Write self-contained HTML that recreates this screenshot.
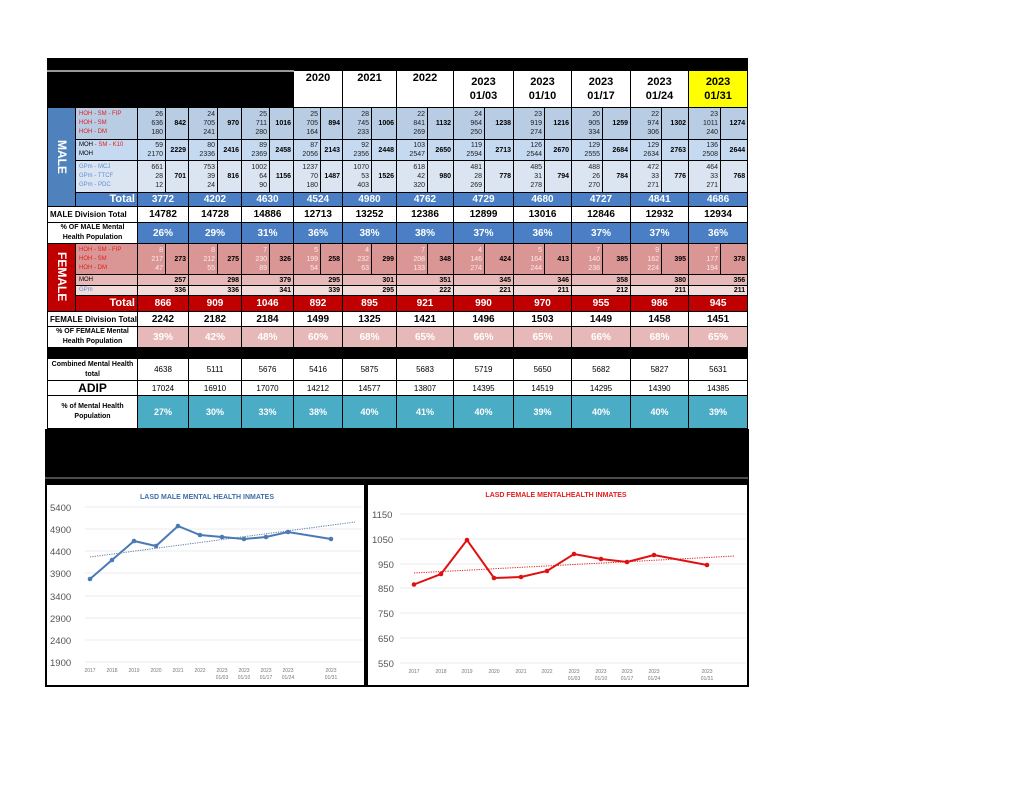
<!DOCTYPE html>
<html><head><meta charset="utf-8">
<style>
body{margin:0;width:1024px;height:791px;background:#fff;position:relative;overflow:hidden;font-family:"Liberation Sans",sans-serif}
table{position:absolute;left:47px;top:58px;border-collapse:collapse;table-layout:fixed;width:701px}
td{border:1px solid #000;padding:0 2px;font-size:7px;line-height:9px;text-align:right;overflow:hidden;white-space:nowrap;color:#222}
.bk{background:#000;border-color:#000}
.h{background:#fff;font-size:11px;font-weight:bold;text-align:center;line-height:14px;color:#000}
.y{background:#ffff00}
.lbl{text-align:left;font-size:6px;line-height:9px;padding-left:3px}
.r{color:#e02020}.bl{color:#5b8fd6}.k{color:#000}
.b1{background:#b8cce4}.b2{background:#c5d9f1}.b3{background:#dbe5f1}
.bt{background:#4a7fc6;color:#fff;font-weight:bold;font-size:10px;text-align:center}
.w{background:#fff;color:#000;font-weight:bold;font-size:10px;text-align:center}
.wl{background:#fff;color:#000;font-weight:bold;font-size:8px;text-align:center;line-height:10px;white-space:normal}
.tb{font-weight:bold;color:#000}
.p1{background:#da9694}.p2{background:#e6b8b7}.p3{background:#f2dcdb}
.pw{color:#fbeaea}
.rt{background:#c00000;color:#fff;font-weight:bold;font-size:10px;text-align:center}
.pp{background:#e6b8b7;color:#fff;font-weight:bold;font-size:10px;text-align:center}
.tl{background:#4bacc6;color:#fff;font-weight:bold;font-size:9px;text-align:center}
.cw{background:#fff;color:#000;font-size:8px;text-align:center}
.vert{color:#fff;font-weight:bold;font-size:12px;text-align:center;padding:0}
.vert span{display:inline-block;writing-mode:vertical-rl;}
</style></head><body>
<table>
<colgroup><col style="width:28px"><col style="width:62px">
<col style="width:28px"><col style="width:23px"><col style="width:29px"><col style="width:24px"><col style="width:28px"><col style="width:24px"><col style="width:27px"><col style="width:22px"><col style="width:29px"><col style="width:25px"><col style="width:31px"><col style="width:26px"><col style="width:31px"><col style="width:29px"><col style="width:31px"><col style="width:27px"><col style="width:31px"><col style="width:28px"><col style="width:31px"><col style="width:27px"><col style="width:32px"><col style="width:27px"></colgroup>
<tr style="height:12px"><td colspan="24" class="bk"></td></tr>
<tr style="height:37px"><td colspan="8" class="bk" style="border-top:2px solid #999"></td>
<td colspan="2" class="h" style="vertical-align:top">2020</td><td colspan="2" class="h" style="vertical-align:top">2021</td><td colspan="2" class="h" style="vertical-align:top">2022</td>
<td colspan="2" class="h">2023<br>01/03</td><td colspan="2" class="h">2023<br>01/10</td><td colspan="2" class="h">2023<br>01/17</td><td colspan="2" class="h">2023<br>01/24</td><td colspan="2" class="h y">2023<br>01/31</td></tr>
<tr style="height:32px"><td rowspan="4" class="vert" style="background:#4f81bd"><span>MALE</span></td>
<td class="lbl b1 r">HOH - SM - FIP<br>HOH - SM<br>HOH - DM</td>
<td class="b1">26<br>636<br>180</td><td class="b1 tb">842</td><td class="b1">24<br>705<br>241</td><td class="b1 tb">970</td><td class="b1">25<br>711<br>280</td><td class="b1 tb">1016</td><td class="b1">25<br>705<br>164</td><td class="b1 tb">894</td><td class="b1">28<br>745<br>233</td><td class="b1 tb">1006</td><td class="b1">22<br>841<br>269</td><td class="b1 tb">1132</td><td class="b1">24<br>964<br>250</td><td class="b1 tb">1238</td><td class="b1">23<br>919<br>274</td><td class="b1 tb">1216</td><td class="b1">20<br>905<br>334</td><td class="b1 tb">1259</td><td class="b1">22<br>974<br>306</td><td class="b1 tb">1302</td><td class="b1">23<br>1011<br>240</td><td class="b1 tb">1274</td></tr>
<tr style="height:21px"><td class="lbl b2 k">MOH <span class="r">- SM - K10</span><br>MOH</td>
<td class="b2">59<br>2170</td><td class="b2 tb">2229</td><td class="b2">80<br>2336</td><td class="b2 tb">2416</td><td class="b2">89<br>2369</td><td class="b2 tb">2458</td><td class="b2">87<br>2056</td><td class="b2 tb">2143</td><td class="b2">92<br>2356</td><td class="b2 tb">2448</td><td class="b2">103<br>2547</td><td class="b2 tb">2650</td><td class="b2">119<br>2594</td><td class="b2 tb">2713</td><td class="b2">126<br>2544</td><td class="b2 tb">2670</td><td class="b2">129<br>2555</td><td class="b2 tb">2684</td><td class="b2">129<br>2634</td><td class="b2 tb">2763</td><td class="b2">136<br>2508</td><td class="b2 tb">2644</td></tr>
<tr style="height:32px"><td class="lbl b3 bl">GPm - MCJ<br>GPm - TTCF<br>GPm - PDC</td>
<td class="b3">661<br>28<br>12</td><td class="b3 tb">701</td><td class="b3">753<br>39<br>24</td><td class="b3 tb">816</td><td class="b3">1002<br>64<br>90</td><td class="b3 tb">1156</td><td class="b3">1237<br>70<br>180</td><td class="b3 tb">1487</td><td class="b3">1070<br>53<br>403</td><td class="b3 tb">1526</td><td class="b3">618<br>42<br>320</td><td class="b3 tb">980</td><td class="b3">481<br>28<br>269</td><td class="b3 tb">778</td><td class="b3">485<br>31<br>278</td><td class="b3 tb">794</td><td class="b3">488<br>26<br>270</td><td class="b3 tb">784</td><td class="b3">472<br>33<br>271</td><td class="b3 tb">776</td><td class="b3">464<br>33<br>271</td><td class="b3 tb">768</td></tr>
<tr style="height:14px"><td class="bt" style="text-align:right;font-size:11px">Total</td>
<td colspan="2" class="bt">3772</td><td colspan="2" class="bt">4202</td><td colspan="2" class="bt">4630</td><td colspan="2" class="bt">4524</td><td colspan="2" class="bt">4980</td><td colspan="2" class="bt">4762</td><td colspan="2" class="bt">4729</td><td colspan="2" class="bt">4680</td><td colspan="2" class="bt">4727</td><td colspan="2" class="bt">4841</td><td colspan="2" class="bt">4686</td></tr>
<tr style="height:16px"><td colspan="2" class="w" style="font-size:8px;text-align:left">MALE Division Total</td>
<td colspan="2" class="w">14782</td><td colspan="2" class="w">14728</td><td colspan="2" class="w">14886</td><td colspan="2" class="w">12713</td><td colspan="2" class="w">13252</td><td colspan="2" class="w">12386</td><td colspan="2" class="w">12899</td><td colspan="2" class="w">13016</td><td colspan="2" class="w">12846</td><td colspan="2" class="w">12932</td><td colspan="2" class="w">12934</td></tr>
<tr style="height:21px"><td colspan="2" class="wl" style="font-size:7px">% OF MALE Mental Health Population</td>
<td colspan="2" class="bt">26%</td><td colspan="2" class="bt">29%</td><td colspan="2" class="bt">31%</td><td colspan="2" class="bt">36%</td><td colspan="2" class="bt">38%</td><td colspan="2" class="bt">38%</td><td colspan="2" class="bt">37%</td><td colspan="2" class="bt">36%</td><td colspan="2" class="bt">37%</td><td colspan="2" class="bt">37%</td><td colspan="2" class="bt">36%</td></tr>
<tr style="height:31px"><td rowspan="4" class="vert" style="background:#c00000"><span>FEMALE</span></td>
<td class="lbl p1 r">HOH - SM - FIP<br>HOH - SM<br>HOH - DM</td>
<td class="p1 pw">8<br>217<br>47</td><td class="p1 tb">273</td><td class="p1 pw">8<br>212<br>55</td><td class="p1 tb">275</td><td class="p1 pw">7<br>230<br>89</td><td class="p1 tb">326</td><td class="p1 pw">5<br>199<br>54</td><td class="p1 tb">258</td><td class="p1 pw">4<br>232<br>63</td><td class="p1 tb">299</td><td class="p1 pw">7<br>208<br>133</td><td class="p1 tb">348</td><td class="p1 pw">4<br>146<br>274</td><td class="p1 tb">424</td><td class="p1 pw">5<br>164<br>244</td><td class="p1 tb">413</td><td class="p1 pw">7<br>140<br>238</td><td class="p1 tb">385</td><td class="p1 pw">9<br>162<br>224</td><td class="p1 tb">395</td><td class="p1 pw">7<br>177<br>194</td><td class="p1 tb">378</td></tr>
<tr style="height:11px"><td class="lbl p2 k">MOH</td>
<td colspan="2" class="p2 tb">257</td><td colspan="2" class="p2 tb">298</td><td colspan="2" class="p2 tb">379</td><td colspan="2" class="p2 tb">295</td><td colspan="2" class="p2 tb">301</td><td colspan="2" class="p2 tb">351</td><td colspan="2" class="p2 tb">345</td><td colspan="2" class="p2 tb">346</td><td colspan="2" class="p2 tb">358</td><td colspan="2" class="p2 tb">380</td><td colspan="2" class="p2 tb">356</td></tr>
<tr style="height:10px"><td class="lbl p3 bl">GPm</td>
<td colspan="2" class="p3 tb">336</td><td colspan="2" class="p3 tb">336</td><td colspan="2" class="p3 tb">341</td><td colspan="2" class="p3 tb">339</td><td colspan="2" class="p3 tb">295</td><td colspan="2" class="p3 tb">222</td><td colspan="2" class="p3 tb">221</td><td colspan="2" class="p3 tb">211</td><td colspan="2" class="p3 tb">212</td><td colspan="2" class="p3 tb">211</td><td colspan="2" class="p3 tb">211</td></tr>
<tr style="height:16px"><td class="rt" style="text-align:right;font-size:11px">Total</td>
<td colspan="2" class="rt">866</td><td colspan="2" class="rt">909</td><td colspan="2" class="rt">1046</td><td colspan="2" class="rt">892</td><td colspan="2" class="rt">895</td><td colspan="2" class="rt">921</td><td colspan="2" class="rt">990</td><td colspan="2" class="rt">970</td><td colspan="2" class="rt">955</td><td colspan="2" class="rt">986</td><td colspan="2" class="rt">945</td></tr>
<tr style="height:15px"><td colspan="2" class="w" style="font-size:8px;text-align:left">FEMALE Division Total</td>
<td colspan="2" class="w">2242</td><td colspan="2" class="w">2182</td><td colspan="2" class="w">2184</td><td colspan="2" class="w">1499</td><td colspan="2" class="w">1325</td><td colspan="2" class="w">1421</td><td colspan="2" class="w">1496</td><td colspan="2" class="w">1503</td><td colspan="2" class="w">1449</td><td colspan="2" class="w">1458</td><td colspan="2" class="w">1451</td></tr>
<tr style="height:21px"><td colspan="2" class="wl" style="font-size:7px">% OF FEMALE Mental Health Population</td>
<td colspan="2" class="pp">39%</td><td colspan="2" class="pp">42%</td><td colspan="2" class="pp">48%</td><td colspan="2" class="pp">60%</td><td colspan="2" class="pp">68%</td><td colspan="2" class="pp">65%</td><td colspan="2" class="pp">66%</td><td colspan="2" class="pp">65%</td><td colspan="2" class="pp">66%</td><td colspan="2" class="pp">68%</td><td colspan="2" class="pp">65%</td></tr>
<tr style="height:11px"><td colspan="24" class="bk"></td></tr>
<tr style="height:22px"><td colspan="2" class="wl" style="font-size:7px">Combined Mental Health total</td>
<td colspan="2" class="cw">4638</td><td colspan="2" class="cw">5111</td><td colspan="2" class="cw">5676</td><td colspan="2" class="cw">5416</td><td colspan="2" class="cw">5875</td><td colspan="2" class="cw">5683</td><td colspan="2" class="cw">5719</td><td colspan="2" class="cw">5650</td><td colspan="2" class="cw">5682</td><td colspan="2" class="cw">5827</td><td colspan="2" class="cw">5631</td></tr>
<tr style="height:15px"><td colspan="2" class="w" style="font-size:12px">ADIP</td>
<td colspan="2" class="cw">17024</td><td colspan="2" class="cw">16910</td><td colspan="2" class="cw">17070</td><td colspan="2" class="cw">14212</td><td colspan="2" class="cw">14577</td><td colspan="2" class="cw">13807</td><td colspan="2" class="cw">14395</td><td colspan="2" class="cw">14519</td><td colspan="2" class="cw">14295</td><td colspan="2" class="cw">14390</td><td colspan="2" class="cw">14385</td></tr>
<tr style="height:33px"><td colspan="2" class="wl" style="font-size:7px">% of Mental Health Population</td>
<td colspan="2" class="tl">27%</td><td colspan="2" class="tl">30%</td><td colspan="2" class="tl">33%</td><td colspan="2" class="tl">38%</td><td colspan="2" class="tl">40%</td><td colspan="2" class="tl">41%</td><td colspan="2" class="tl">40%</td><td colspan="2" class="tl">39%</td><td colspan="2" class="tl">40%</td><td colspan="2" class="tl">40%</td><td colspan="2" class="tl">39%</td></tr>
</table>
<div style="position:absolute;left:45px;top:429px;width:704px;height:258px;background:#000"></div>
<svg style="position:absolute;left:0;top:0" width="1024" height="791" font-family="Liberation Sans, sans-serif">
<rect x="47" y="485" width="317" height="200" fill="#fff"/>
<rect x="368" y="485" width="379" height="200" fill="#fff"/>
<line x1="45" y1="478" x2="748" y2="478" stroke="#999" stroke-width="1"/>
<text x="207" y="499" font-size="7" font-weight="bold" fill="#3f6ea8" text-anchor="middle">LASD MALE MENTAL HEALTH INMATES</text>
<g stroke="#e4e4e4" stroke-width="0.7">
<line x1="85" y1="507" x2="362" y2="507"/><line x1="85" y1="529" x2="362" y2="529"/><line x1="85" y1="551" x2="362" y2="551"/><line x1="85" y1="573" x2="362" y2="573"/><line x1="85" y1="596" x2="362" y2="596"/><line x1="85" y1="618" x2="362" y2="618"/><line x1="85" y1="640" x2="362" y2="640"/><line x1="85" y1="662" x2="362" y2="662"/>
</g>
<g font-size="9.5" fill="#555">
<text x="50" y="511">5400</text><text x="50" y="533">4900</text><text x="50" y="555">4400</text><text x="50" y="577">3900</text><text x="50" y="600">3400</text><text x="50" y="622">2900</text><text x="50" y="644">2400</text><text x="50" y="666">1900</text>
</g>
<g font-size="5" fill="#777" text-anchor="middle">
<text x="90" y="672">2017</text><text x="112" y="672">2018</text><text x="134" y="672">2019</text><text x="156" y="672">2020</text><text x="178" y="672">2021</text><text x="200" y="672">2022</text>
<text x="222" y="672">2023</text><text x="222" y="679">01/03</text><text x="244" y="672">2023</text><text x="244" y="679">01/10</text><text x="266" y="672">2023</text><text x="266" y="679">01/17</text><text x="288" y="672">2023</text><text x="288" y="679">01/24</text><text x="331" y="672">2023</text><text x="331" y="679">01/31</text>
</g>
<line x1="90" y1="557" x2="355" y2="522" stroke="#5a7ea8" stroke-width="1" stroke-dasharray="1.2,1.2"/>
<polyline fill="none" stroke="#4a79b4" stroke-width="2" points="90,579 112,560 134,541 156,546 178,526 200,535 222,537 244,539 266,537 288,532 331,539"/>
<g fill="#4a79b4"><circle cx="90" cy="579" r="2.3"/><circle cx="112" cy="560" r="2.3"/><circle cx="134" cy="541" r="2.3"/><circle cx="156" cy="546" r="2.3"/><circle cx="178" cy="526" r="2.3"/><circle cx="200" cy="535" r="2.3"/><circle cx="222" cy="537" r="2.3"/><circle cx="244" cy="539" r="2.3"/><circle cx="266" cy="537" r="2.3"/><circle cx="288" cy="532" r="2.3"/><circle cx="331" cy="539" r="2.3"/></g>

<text x="556" y="497" font-size="7" font-weight="bold" fill="#e02020" text-anchor="middle">LASD FEMALE MENTALHEALTH INMATES</text>
<g stroke="#e4e4e4" stroke-width="0.7">
<line x1="400" y1="514" x2="746" y2="514"/><line x1="400" y1="539" x2="746" y2="539"/><line x1="400" y1="564" x2="746" y2="564"/><line x1="400" y1="588" x2="746" y2="588"/><line x1="400" y1="613" x2="746" y2="613"/><line x1="400" y1="638" x2="746" y2="638"/><line x1="400" y1="663" x2="746" y2="663"/>
</g>
<g font-size="9.5" fill="#555">
<text x="372" y="518">1150</text><text x="372" y="543">1050</text><text x="378" y="568">950</text><text x="378" y="592">850</text><text x="378" y="617">750</text><text x="378" y="642">650</text><text x="378" y="667">550</text>
</g>
<g font-size="5" fill="#777" text-anchor="middle">
<text x="414" y="673">2017</text><text x="441" y="673">2018</text><text x="467" y="673">2019</text><text x="494" y="673">2020</text><text x="521" y="673">2021</text><text x="547" y="673">2022</text>
<text x="574" y="673">2023</text><text x="574" y="680">01/03</text><text x="601" y="673">2023</text><text x="601" y="680">01/10</text><text x="627" y="673">2023</text><text x="627" y="680">01/17</text><text x="654" y="673">2023</text><text x="654" y="680">01/24</text><text x="707" y="673">2023</text><text x="707" y="680">01/31</text>
</g>
<line x1="414" y1="573" x2="735" y2="556" stroke="#e02020" stroke-width="1" stroke-dasharray="1.2,1.2"/>
<polyline fill="none" stroke="#e01010" stroke-width="2" points="414,584.5 441,574 467,540 494,578 521,577 547,571 574,554 601,559 627,562 654,555 707,565"/>
<g fill="#e01010"><circle cx="414" cy="584.5" r="2.3"/><circle cx="441" cy="574" r="2.3"/><circle cx="467" cy="540" r="2.3"/><circle cx="494" cy="578" r="2.3"/><circle cx="521" cy="577" r="2.3"/><circle cx="547" cy="571" r="2.3"/><circle cx="574" cy="554" r="2.3"/><circle cx="601" cy="559" r="2.3"/><circle cx="627" cy="562" r="2.3"/><circle cx="654" cy="555" r="2.3"/><circle cx="707" cy="565" r="2.3"/></g>
</svg>
</body></html>
